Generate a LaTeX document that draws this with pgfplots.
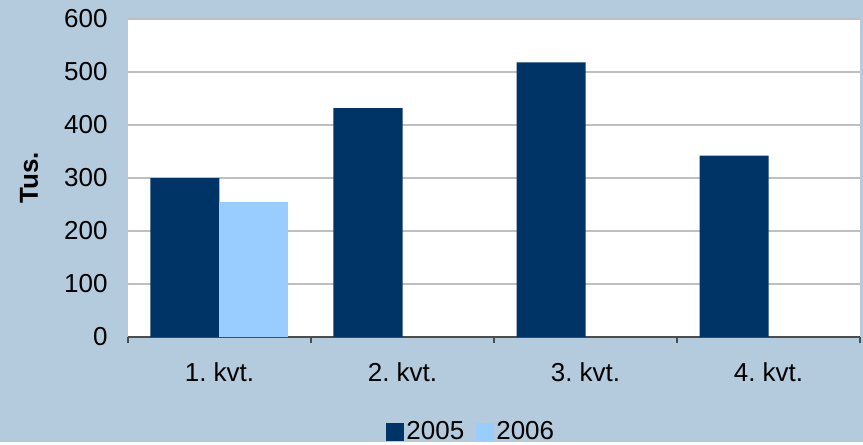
\documentclass[border=0pt]{standalone}
\usepackage{pgfplots}
\pgfplotsset{compat=1.18}
\usepackage{fontspec}
\setmainfont{Liberation Sans}
\frenchspacing
\definecolor{bgc}{RGB}{180,203,221}
\definecolor{darkbar}{HTML}{003366}
\definecolor{lightbar}{HTML}{99CCFF}
\begin{document}
\begin{tikzpicture}
\fill[bgc] (-64bp,-52.5bp) rectangle (367.5bp,168.5bp);
\begin{axis}[at={(0,0)}, anchor=south west, scale only axis,
  width=366bp, height=159bp,
  font=\fontsize{13bp}{15.5bp}\selectfont,
  /pgf/number format/assume math mode=true,
  axis background/.style={fill=white},
  ybar=0pt, bar width=34.5bp,
  xmin=-0.5, xmax=3.5, ymin=0, ymax=600,
  xtick={0,1,2,3}, xticklabels={1. kvt.,2. kvt.,3. kvt.,4. kvt.},
  minor xtick={-0.5,0.5,1.5,2.5,3.5},
  major tick length=0pt, minor tick length=3bp, tick align=outside,
  every minor tick/.append style={draw=black!70, line width=0.6bp},
  ytick={0,100,...,600}, ymajorgrids,
  grid style={draw=black!25, line width=0.6bp},
  axis x line*=bottom, axis y line*=left,
  x axis line style={draw=black!70, line width=0.6bp},
  y axis line style={draw=none},
  yticklabel style={anchor=east, inner sep=0pt, xshift=-10bp},
  xticklabel style={anchor=base, inner sep=0pt, yshift=-22.3bp},
  ylabel={Tus.},
  every axis y label/.style={at={(axis description cs:0,0.5)}, xshift=-49.5bp, rotate=90, anchor=center, font=\fontsize{13bp}{15.5bp}\selectfont\bfseries},
  legend columns=2,
  legend style={at={(axis description cs:0.469,-0.3)}, anchor=center, draw=none, fill=none,
    font=\fontsize{13bp}{15.5bp}\selectfont, inner sep=0pt,
    /tikz/every even column/.append style={column sep=5bp},
    nodes={inner sep=1bp}},
]
\addplot[fill=darkbar, draw=none,
  legend image code/.code={\fill[darkbar] (0bp,-4.5bp) rectangle (9bp,4.5bp);}]
  coordinates {(0,300) (1,432) (2,518) (3,342)};
\addplot[fill=lightbar, draw=none,
  legend image code/.code={\fill[lightbar] (0bp,-4.5bp) rectangle (9bp,4.5bp);}]
  coordinates {(0,255)};
\legend{2005,2006}
\end{axis}
\end{tikzpicture}
\end{document}
